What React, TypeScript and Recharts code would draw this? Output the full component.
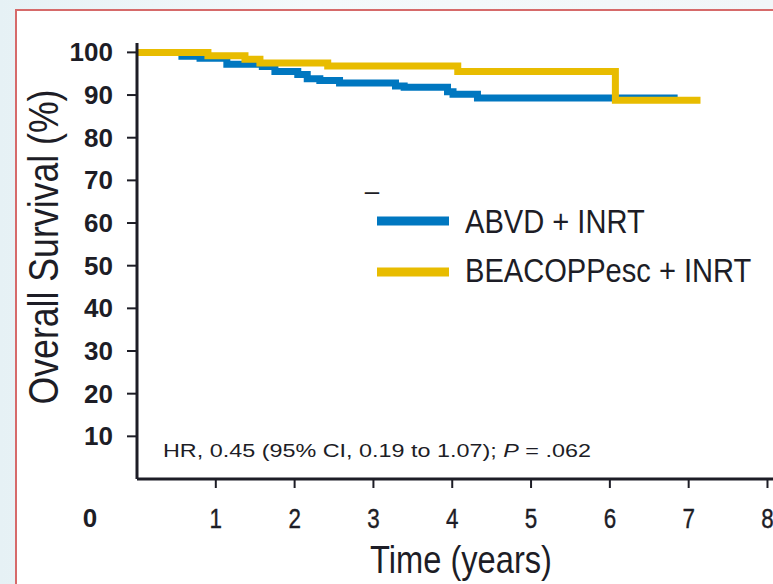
import React from "react";
import { LineChart, Line, XAxis, YAxis, Legend } from "recharts";

// Kaplan-Meier steps (time in years, survival in %)
const abvdTime = [0, 0.57, 0.8, 1.14, 1.59, 1.75, 2.04, 2.16, 2.32, 2.57, 3.28, 3.39, 3.94, 4.01, 4.32, 6.86];
const abvdSurvival = [100, 99.1, 98.6, 97.2, 96.7, 95.5, 94.8, 93.8, 93.4, 92.8, 92.1, 91.8, 90.8, 90.2, 89.3, 89.3];

const beacoppTime = [0, 0.9, 1.37, 1.56, 2.42, 4.07, 6.07, 7.15];
const beacoppSurvival = [100, 99.2, 98.4, 97.5, 96.8, 95.5, 88.8, 88.8];

const seriesNames = ["ABVD + INRT", "BEACOPPesc + INRT"];
const xTicks = [0, 1, 2, 3, 4, 5, 6, 7, 8];
const yTicks = [10, 20, 30, 40, 50, 60, 70, 80, 90, 100];

const BLUE = "#0077c0";
const YELLOW = "#e8bc00";
const INK = "#1d1d26";
const NARROW = "'Liberation Sans Narrow', 'Liberation Sans', Arial, sans-serif";
const SANS = "'Liberation Sans', Arial, sans-serif";

const abvd = abvdTime.map((t, i) => ({ t, s: abvdSurvival[i] }));
const beacopp = beacoppTime.map((t, i) => ({ t, s: beacoppSurvival[i] }));

function XTick(props: any) {
  const { x, y, payload } = props;
  if (payload.value === 0) {
    // origin label sits left of the y axis, on the x label row
    return (
      <text x={x - 47} y={y + 39} textAnchor="middle" dominantBaseline="central"
        fontFamily={SANS} fontWeight="bold" fontSize={26} fill={INK}>
        0
      </text>
    );
  }
  return (
    <g>
      <line x1={x} x2={x} y1={y} y2={y + 9} stroke={INK} strokeWidth={2} />
      <text transform={`translate(${x}, ${y + 39}) scale(0.8, 1)`} textAnchor="middle" dominantBaseline="central"
        fontFamily={SANS} fontSize={28} fill={INK} stroke={INK} strokeWidth={0.4}>
        {payload.value}
      </text>
    </g>
  );
}

function YTick(props: any) {
  const { x, y, payload } = props;
  return (
    <g>
      <line x1={x - 10} x2={x} y1={y} y2={y} stroke={INK} strokeWidth={2} />
      <text x={x - 24} y={y} textAnchor="end" dominantBaseline="central"
        fontFamily={SANS} fontWeight="bold" fontSize={26} fill={INK}>
        {payload.value}
      </text>
    </g>
  );
}

function YTitle(props: any) {
  const { viewBox } = props;
  const cx = viewBox.x + 58;
  const cy = viewBox.y + 204;
  return (
    <text x={cx} y={cy} transform={`rotate(-90, ${cx}, ${cy})`} textAnchor="middle"
      fontFamily={NARROW} fontSize={42} fill={INK} textLength={315} lengthAdjust="spacingAndGlyphs">
      Overall Survival  (%)
    </text>
  );
}

function XTitle(props: any) {
  const { viewBox } = props;
  return (
    <text x={viewBox.x + 324} y={viewBox.y + 94} textAnchor="middle"
      fontFamily={NARROW} fontSize={39} fill={INK} textLength={182} lengthAdjust="spacingAndGlyphs">
      Time (years)
    </text>
  );
}

function renderLegend(props: any) {
  const { payload } = props;
  return (
    <svg width={413} height={110} style={{ display: "block", overflow: "visible" }}>
      <text x={12} y={20} textAnchor="middle" fontFamily={SANS} fontSize={26} fill={INK}>–</text>
      {(payload || []).map((entry: any, i: number) => (
        <g key={entry.value}>
          <line x1={17} x2={89} y1={41 + i * 51} y2={41 + i * 51} stroke={entry.color} strokeWidth={9} />
          <text transform={`translate(105, ${53 + i * 49}) scale(0.856, 1)`} fontFamily={SANS} fontSize={34} fill={INK}>
            {entry.value}
          </text>
        </g>
      ))}
    </svg>
  );
}

export default function App() {
  return (
    <div
      style={{
        position: "fixed",
        left: 0,
        top: 0,
        width: 773,
        height: 584,
        overflow: "hidden",
        background: "linear-gradient(to right, #e6f1f5, #f4f9fb 40%, #f1f6f8)",
      }}
    >
      {/* figure frame */}
      <div
        style={{
          position: "absolute",
          left: 15,
          top: 9,
          width: 800,
          height: 620,
          background: "#fff",
          border: "2px solid #d66a6a",
          boxSizing: "border-box",
        }}
      />

      <div style={{ position: "absolute", left: 0, top: 0 }}>
        <LineChart width={773} height={584} margin={{ top: 43, right: 0, bottom: 45, left: 0 }}>
          <XAxis
            type="number"
            dataKey="t"
            domain={[0, 8.07]}
            ticks={xTicks}
            interval={0}
            height={60}
            axisLine={{ stroke: INK, strokeWidth: 3 }}
            tickLine={false}
            tickSize={0}
            tickMargin={0}
            tick={<XTick />}
            label={{ content: <XTitle /> }}
          />
          <YAxis
            type="number"
            domain={[0, 102.2]}
            ticks={yTicks}
            interval={0}
            width={137}
            axisLine={{ stroke: INK, strokeWidth: 3 }}
            tickLine={false}
            tickSize={0}
            tickMargin={0}
            tick={<YTick />}
            label={{ content: <YTitle /> }}
          />

          <Legend
            verticalAlign="middle"
            align="center"
            layout="horizontal"
            wrapperStyle={{ left: 360, top: 180, width: 413, height: 110 }}
            content={renderLegend}
          />

          <Line
            data={abvd}
            dataKey="s"
            name={seriesNames[0]}
            type="stepAfter"
            stroke={BLUE}
            strokeWidth={7}
            dot={false}
            activeDot={false}
            isAnimationActive={false}
          />
          <Line
            data={beacopp}
            dataKey="s"
            name={seriesNames[1]}
            type="stepAfter"
            stroke={YELLOW}
            strokeWidth={7}
            dot={false}
            activeDot={false}
            isAnimationActive={false}
          />
        </LineChart>
      </div>

      {/* hazard ratio note */}
      <svg width={773} height={584} style={{ position: "absolute", left: 0, top: 0, pointerEvents: "none" }}>
        <text x={163} y={457} fontFamily={SANS} fontSize={19} fill={INK} textLength={428} lengthAdjust="spacingAndGlyphs">
          HR, 0.45 (95% CI, 0.19 to 1.07); <tspan fontStyle="italic">P</tspan> = .062
        </text>
      </svg>
    </div>
  );
}
